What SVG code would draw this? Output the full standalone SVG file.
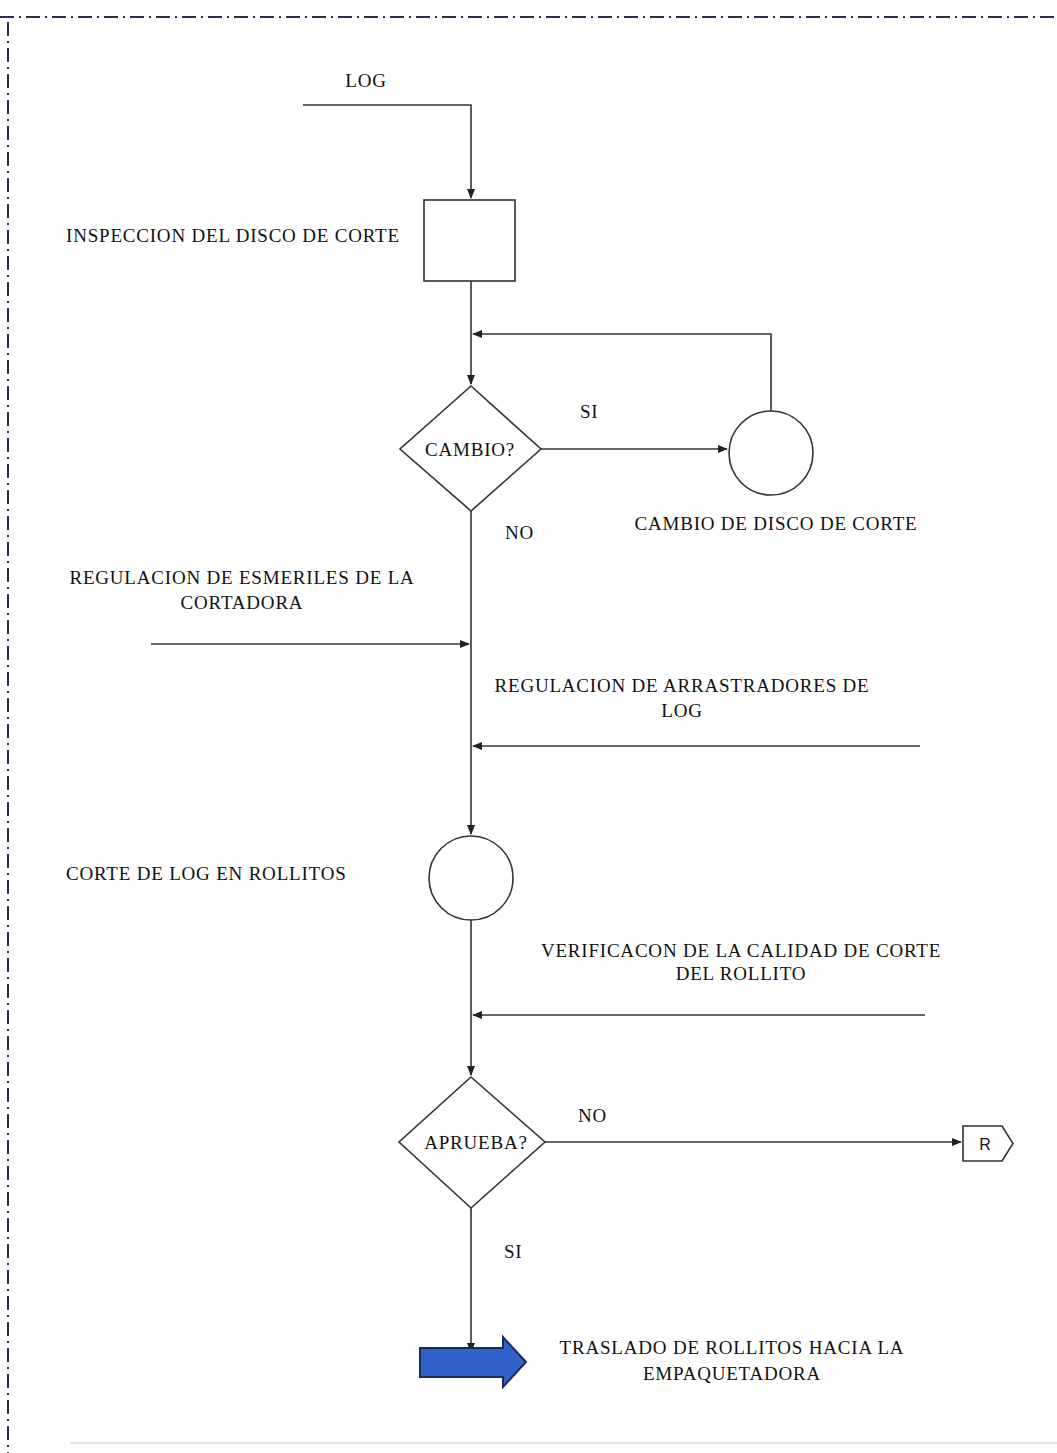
<svg xmlns="http://www.w3.org/2000/svg" width="1057" height="1453" viewBox="0 0 1057 1453">
<defs>
<marker id="ah" markerWidth="10" markerHeight="8" refX="9" refY="4" orient="auto" markerUnits="userSpaceOnUse">
<path d="M0,0 L10,4 L0,8 Z" fill="#222"/>
</marker>
<style>
.t{font-family:"Liberation Serif","Times New Roman",serif;font-size:19px;letter-spacing:0.8px;fill:#111;}
.c{text-anchor:middle;}
.ln{stroke:#333;stroke-width:1.6;fill:none;}
.shape{stroke:#333;stroke-width:1.6;fill:#fff;}
.border{stroke:#2a2f4a;stroke-width:2;fill:none;stroke-dasharray:14,5,2,5;}
</style>
</defs>
<rect width="1057" height="1453" fill="#fff"/>
<g id="frame">
<line class="border" x1="0" y1="17" x2="1057" y2="17"/>
<line class="border" x1="8" y1="22" x2="8" y2="1453"/>
<line x1="70" y1="1443" x2="1057" y2="1443" stroke="#ddd" stroke-width="1.5"/>
</g>
<g id="connectors">
<path class="ln" d="M303,105 H471 V198" marker-end="url(#ah)"/>
<line class="ln" x1="471" y1="281" x2="471" y2="384" marker-end="url(#ah)"/>
<path class="ln" d="M771,411 V334 H473" marker-end="url(#ah)"/>
<line class="ln" x1="541" y1="449" x2="727" y2="449" marker-end="url(#ah)"/>
<line class="ln" x1="471" y1="511" x2="471" y2="834" marker-end="url(#ah)"/>
<line class="ln" x1="151" y1="644" x2="469" y2="644" marker-end="url(#ah)"/>
<line class="ln" x1="920" y1="746" x2="473" y2="746" marker-end="url(#ah)"/>
<line class="ln" x1="471" y1="920" x2="471" y2="1075" marker-end="url(#ah)"/>
<line class="ln" x1="925" y1="1015" x2="473" y2="1015" marker-end="url(#ah)"/>
<line class="ln" x1="545" y1="1142" x2="961" y2="1142" marker-end="url(#ah)"/>
<line class="ln" x1="471" y1="1208" x2="471" y2="1352" marker-end="url(#ah)"/>
</g>
<g id="log-label"><text class="t c" x="366" y="87">LOG</text></g>
<g id="inspeccion">
<rect class="shape" x="424" y="200" width="91" height="81"/>
<text class="t" x="66" y="242">INSPECCION DEL DISCO DE CORTE</text>
</g>
<g id="cambio-decision">
<polygon class="shape" points="471,386 541,449 471,511 400,449"/>
<text class="t c" x="470" y="456">CAMBIO?</text>
<text class="t" x="580" y="418">SI</text>
<text class="t" x="505" y="539">NO</text>
</g>
<g id="cambio-disco">
<circle class="shape" cx="771" cy="453" r="42"/>
<text class="t c" x="776" y="530">CAMBIO DE DISCO DE CORTE</text>
</g>
<g id="regulacion-esmeriles">
<text class="t c" x="242" y="584">REGULACION DE ESMERILES DE LA</text>
<text class="t c" x="242" y="609">CORTADORA</text>
</g>
<g id="regulacion-arrastradores">
<text class="t c" x="682" y="692">REGULACION DE  ARRASTRADORES DE</text>
<text class="t c" x="682" y="717">LOG</text>
</g>
<g id="corte-log">
<circle class="shape" cx="471" cy="878" r="42"/>
<text class="t" x="66" y="880">CORTE DE LOG EN ROLLITOS</text>
</g>
<g id="verificacion">
<text class="t c" x="741" y="957">VERIFICACON DE LA CALIDAD DE CORTE</text>
<text class="t c" x="741" y="980">DEL ROLLITO</text>
</g>
<g id="aprueba-decision">
<polygon class="shape" points="471,1077 545,1142 471,1208 399,1142"/>
<text class="t c" x="476" y="1149">APRUEBA?</text>
<text class="t" x="578" y="1122">NO</text>
<text class="t" x="504" y="1258">SI</text>
</g>
<g id="r-connector">
<path class="shape" d="M963,1126 H1002 L1013,1143.5 L1002,1161 H963 Z" stroke-width="1.3"/>
<text x="985" y="1150" text-anchor="middle" style="font-family:'Liberation Sans',Arial,sans-serif;font-size:16px;fill:#111">R</text>
</g>
<g id="traslado">
<path d="M420,1348 H503 V1337 L526,1362 L503,1387 V1377 H420 Z" fill="#2f63c8" stroke="#1c2a5a" stroke-width="2"/>
<text class="t c" x="732" y="1354">TRASLADO DE ROLLITOS HACIA LA</text>
<text class="t c" x="732" y="1380">EMPAQUETADORA</text>
</g>
</svg>
